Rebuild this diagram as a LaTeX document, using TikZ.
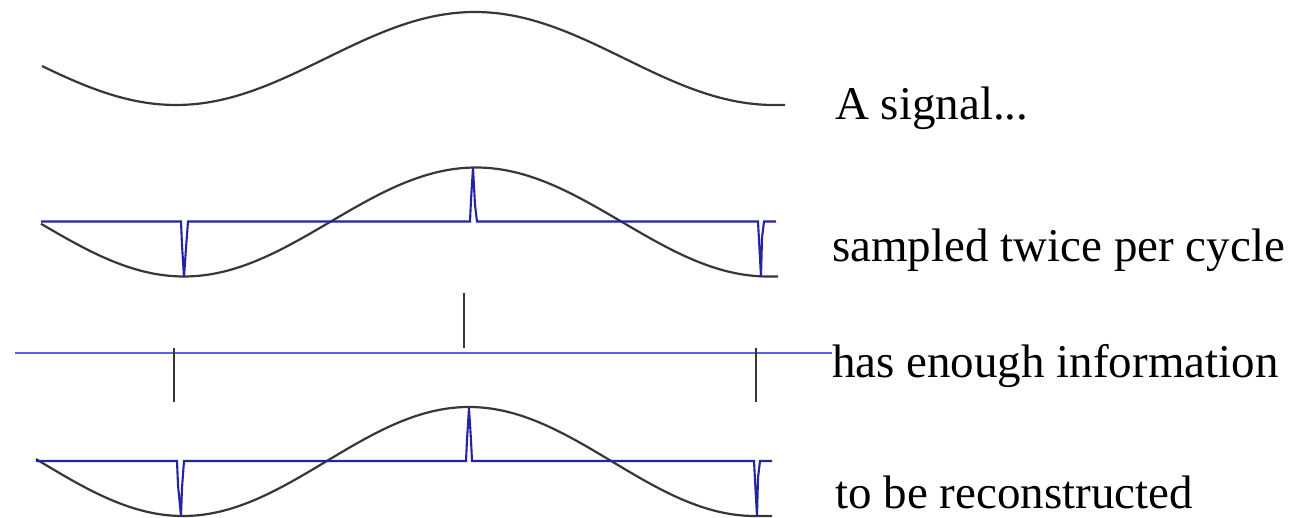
\documentclass[tikz,border=0pt]{standalone}
\usepackage{fontspec}
\setmainfont{Liberation Serif}
\definecolor{wave}{RGB}{55,55,55}
\definecolor{samp}{RGB}{35,35,165}
\definecolor{axis}{RGB}{95,95,235}
\tikzset{
  wavestyle/.style={draw=wave, line width=2.2pt, line join=round},
  sampstyle/.style={draw=samp, line width=2.1pt, line join=miter},
  axisstyle/.style={draw=axis, line width=1.8pt},
  tickstyle/.style={draw=wave, line width=2.2pt},
  lbl/.style={anchor=base west, inner sep=0pt, font=\fontsize{47}{52}\selectfont}
}
\begin{document}
\begin{tikzpicture}[x=1pt, y=-1pt]
\useasboundingbox (0,0) rectangle (1302,518);
% wave 1
\draw[wavestyle] plot[domain=42:774, samples=200] (\x, {58.5+46.5*sin((\x-26.5)/299*180)}) -- (785,105);
% wave 2
\draw[wavestyle] plot[domain=41:768, samples=200] (\x, {222+54.5*sin((\x-38)/292*180)}) -- (778,276.5);
\draw[sampstyle] (41,221.5) -- (181,221.5) -- (182,245) -- (184,277) -- (186,248) -- (188,221.5)
  -- (470,221.5) -- (471,200) -- (473,168) -- (475,205) -- (477,221.5)
  -- (758,221.5) -- (759,240) -- (761,277) -- (762,238) -- (764,221.5) -- (776,221.5);
% middle row
\draw[axisstyle] (15,353) -- (832,353);
\coordinate (t1a) at (464,293); \coordinate (t1b) at (464,348);
\coordinate (t2a) at (174,348); \coordinate (t2b) at (174,402);
\coordinate (t3a) at (756,348); \coordinate (t3b) at (756,402);
\draw[tickstyle] (t1a) -- (t1b);
\draw[tickstyle] (t2a) -- (t2b);
\draw[tickstyle] (t3a) -- (t3b);
% wave 3
\draw[wavestyle] plot[domain=36:755, samples=200] (\x, {461.5+54.5*sin((\x-40)/286*180)}) -- (772,516);
\draw[sampstyle] (36,461) -- (177,461) -- (178,485) -- (181,516) -- (182,488) -- (184,461)
  -- (466,461) -- (467,440) -- (469,408) -- (471,440) -- (472,461)
  -- (754,461) -- (755,480) -- (757,516) -- (758,478) -- (760,461) -- (772,461);
% labels
\node[lbl] (l1) at (835,120) {A signal...};
\node[lbl] (l2) at (832,262) {sampled twice per cycle};
\node[lbl] (l3) at (832,378) {has enough information};
\node[lbl] (l4) at (835,509) {to be reconstructed};
\end{tikzpicture}
\end{document}
